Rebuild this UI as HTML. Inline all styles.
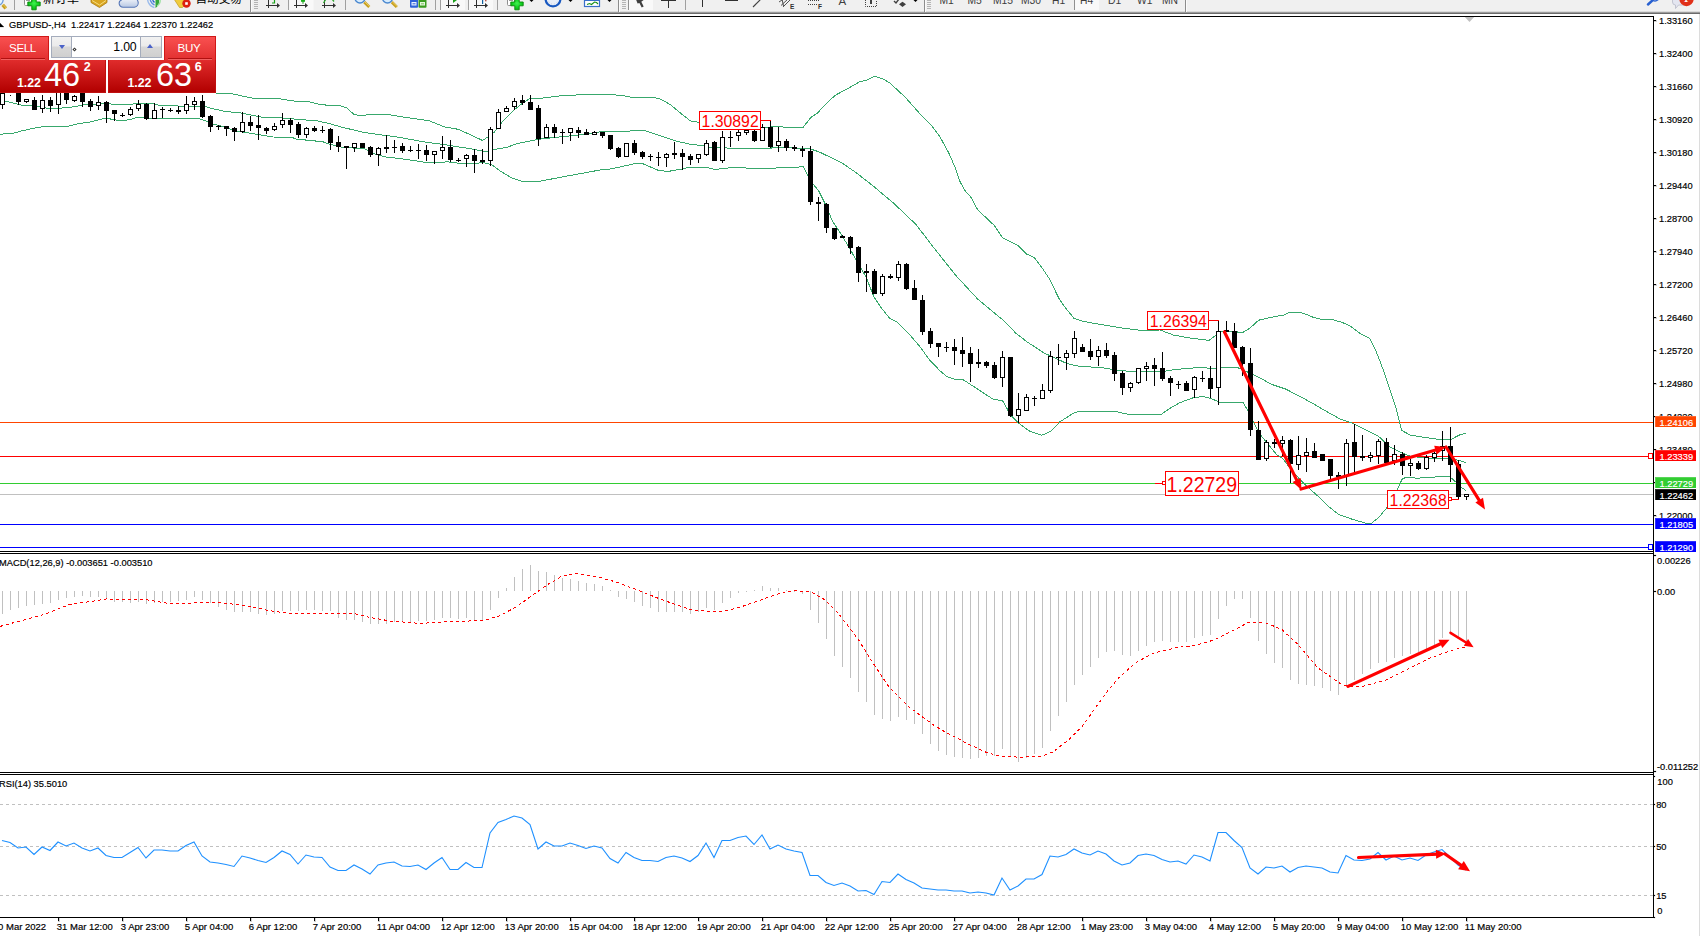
<!DOCTYPE html>
<html><head><meta charset="utf-8"><title>GBPUSD-,H4</title>
<style>
html,body{margin:0;padding:0;background:#fff;}
body{width:1700px;height:936px;overflow:hidden;position:relative;font-family:"Liberation Sans", "Noto Sans CJK SC", sans-serif;}
#tb{position:absolute;left:0;top:0;width:1700px;height:14px;background:linear-gradient(#f0f0f0 0,#f0f0f0 10.4px,#f7f7f7 11px,#c4c4c4 11.9px,#7a7a7a 13px,#686868 13.6px,#fff 13.95px);overflow:hidden;}
#tb span{position:absolute;white-space:nowrap;color:#222;}
#tb i{position:absolute;display:block;}
#tp{position:absolute;left:0;top:36px;width:216px;height:57px;background:#fff;}
#tp div{position:absolute;box-sizing:border-box;}
.r1{background:linear-gradient(#f95050,#e23030);border:1px solid #d01818;border-bottom:0;}
.r2{background:linear-gradient(#e02c2c,#b20000);border:1px solid #c01010;border-top:0;}
#tp span{position:absolute;color:#fff;white-space:nowrap;line-height:1;}
</style></head><body>
<svg width="1700" height="936" viewBox="0 0 1700 936" style="position:absolute;left:0;top:0" font-family='"Liberation Sans", "Noto Sans CJK SC", sans-serif' shape-rendering="crispEdges">
<defs>
<clipPath id="cm"><rect x="0" y="17" width="1653" height="534"/></clipPath>
<clipPath id="cd"><rect x="0" y="554" width="1653" height="218"/></clipPath>
<clipPath id="cr"><rect x="0" y="776" width="1653" height="141"/></clipPath>
</defs>
<g fill="#000">
<rect x="0" y="16" width="1654" height="1"/>
<rect x="1653" y="16" width="1" height="902"/>
<rect x="0" y="551" width="1654" height="1"/>
<rect x="0" y="553" width="1654" height="1"/>
<rect x="0" y="772" width="1654" height="1"/>
<rect x="0" y="774" width="1654" height="1"/>
<rect x="0" y="917" width="1654" height="1"/>
</g>
<rect x="1699" y="14" width="1" height="922" fill="#dcdcdc"/>
<g clip-path="url(#cm)">
<rect x="0" y="422" width="1653" height="1" fill="#FF4500"/>
<rect x="0" y="456" width="1653" height="1" fill="#FF0000"/>
<rect x="0" y="483" width="1653" height="1" fill="#32CD32"/>
<rect x="0" y="494" width="1653" height="1" fill="#C0C0C0"/>
<rect x="0" y="524" width="1653" height="1" fill="#0000FF"/>
<rect x="0" y="547" width="1653" height="1" fill="#0000FF"/>
<polyline points="0.0,90.0 216.0,93.0 230.6,93.5 247.0,97.0 255.0,98.5 277.6,98.5 294.0,101.0 308.0,101.5 317.6,104.0 329.4,105.5 340.0,105.5 347.0,108.0 354.0,114.5 360.0,115.5 366.0,115.0 376.5,114.3 388.0,114.5 400.0,116.5 429.4,120.8 444.7,127.0 458.8,129.4 482.4,140.4 488.0,137.0 494.0,132.4 502.4,121.8 514.0,110.0 523.5,102.4 529.4,98.8 541.0,98.2 564.7,95.3 588.0,94.7 600.0,94.0 621.0,95.3 631.8,97.3 654.0,97.3 661.0,99.4 670.6,104.7 682.4,114.7 690.6,121.0 699.4,122.4 730.0,124.0 764.7,127.4 774.0,126.7 781.0,126.5 784.7,127.6 803.0,127.6 810.5,117.8 817.8,112.7 823.0,107.0 835.0,95.4 847.0,89.0 859.6,81.8 867.0,80.0 874.5,76.3 883.0,79.0 889.5,82.7 905.0,97.0 921.0,115.0 932.0,126.0 939.5,136.0 948.6,152.6 955.8,169.0 960.0,181.6 964.8,190.4 971.2,197.6 977.6,209.6 994.5,225.7 1002.5,237.7 1017.7,245.4 1026.5,254.0 1034.5,257.7 1043.3,269.7 1049.7,279.4 1059.4,299.4 1065.8,308.2 1073.8,318.1 1081.8,321.0 1090.0,322.6 1103.5,324.9 1121.7,328.0 1140.0,330.3 1160.0,330.0 1173.4,335.0 1189.8,338.0 1209.0,340.4 1215.0,335.9 1219.7,331.7 1234.7,331.4 1242.0,333.0 1249.6,328.4 1258.6,320.2 1272.0,317.2 1280.0,315.5 1284.0,315.0 1289.6,312.3 1300.0,312.3 1305.6,314.2 1313.6,317.4 1321.6,319.3 1332.0,319.3 1342.5,322.6 1350.5,326.2 1360.0,333.4 1369.7,338.2 1376.0,351.0 1381.0,363.9 1385.7,376.7 1390.5,391.1 1395.3,405.5 1399.3,421.5 1401.7,430.4 1410.5,435.2 1422.0,437.0 1439.0,439.5 1451.8,439.0 1459.5,435.0 1466.0,433.0" fill="none" stroke="#38a86c" stroke-width="1" shape-rendering="crispEdges"/>
<polyline points="0.0,100.5 5.5,101.2 13.0,103.0 22.6,105.4 31.0,105.7 38.8,106.7 47.9,108.4 58.0,108.4 70.0,107.3 77.7,106.0 87.4,104.0 100.0,104.0 108.5,103.2 111.3,104.0 133.2,104.0 136.7,103.2 149.4,103.2 153.6,104.0 158.6,105.1 174.0,105.1 177.6,106.0 205.9,106.5 210.0,108.0 215.7,109.3 223.5,111.2 241.0,113.0 263.5,117.6 282.0,118.0 294.0,119.0 317.6,121.0 329.0,123.5 341.0,127.0 364.7,132.6 386.0,135.5 400.0,137.5 423.5,141.8 447.0,145.0 470.6,148.8 482.4,151.0 488.0,151.0 494.0,149.4 506.0,147.6 517.6,143.5 537.6,139.4 553.0,137.6 576.5,135.3 600.0,131.8 621.0,131.8 638.8,130.2 644.7,130.6 658.8,135.3 676.5,141.2 689.4,144.0 703.5,145.9 710.6,147.6 717.6,147.6 726.0,147.9 729.4,148.5 764.7,148.5 773.0,147.9 778.8,147.0 796.0,148.0 810.5,149.0 818.7,151.7 841.4,162.6 856.0,172.6 872.3,185.3 894.0,203.5 916.0,224.5 934.0,248.0 955.8,275.4 977.6,299.0 996.0,314.4 1001.8,319.0 1016.3,333.6 1027.0,341.8 1043.5,352.7 1052.6,356.9 1067.0,363.6 1078.0,366.0 1103.5,368.0 1121.7,370.8 1140.0,371.7 1160.0,372.0 1174.9,369.5 1201.8,367.3 1213.7,369.0 1222.7,367.6 1237.7,367.6 1243.6,370.3 1254.0,374.8 1272.0,384.5 1285.5,389.0 1300.0,396.4 1312.0,403.0 1324.0,410.0 1340.0,419.0 1351.5,422.8 1363.0,428.6 1378.5,436.3 1390.0,447.0 1399.0,451.7 1409.5,456.0 1422.0,457.7 1436.0,458.5 1451.8,458.5 1459.5,460.6 1466.0,462.6" fill="none" stroke="#38a86c" stroke-width="1" shape-rendering="crispEdges"/>
<polyline points="0.0,134.7 5.8,133.2 13.6,133.2 21.4,131.0 32.4,128.5 38.8,127.4 46.6,126.0 69.3,126.0 77.7,123.8 90.6,121.9 100.0,119.6 104.2,118.5 109.2,118.5 112.0,119.6 118.3,120.3 125.4,120.3 131.0,119.2 136.7,117.6 142.3,117.6 145.2,118.5 198.8,118.5 203.7,120.3 208.7,121.7 212.9,124.2 220.0,125.6 235.0,130.6 259.0,134.7 273.0,137.0 292.0,137.5 297.6,139.4 310.6,140.4 323.5,142.0 329.0,144.0 341.0,147.0 353.0,148.0 364.7,148.8 376.5,154.7 386.0,157.0 400.0,158.5 426.0,162.4 435.0,163.0 447.0,161.8 458.8,163.2 476.5,163.5 482.4,162.4 491.8,164.7 500.0,171.0 511.8,178.0 521.0,181.0 541.0,181.0 564.7,176.5 600.0,170.0 611.8,168.8 635.3,163.5 642.4,163.5 649.4,166.5 658.8,170.6 668.2,171.4 680.0,169.4 688.2,167.4 706.0,167.4 715.3,169.4 729.4,167.9 741.0,167.6 753.0,168.6 770.6,168.2 788.2,167.6 796.0,167.5 803.0,166.3 807.8,175.4 814.0,185.3 818.7,190.8 826.0,205.4 832.3,220.9 841.4,234.5 850.5,250.0 857.8,262.7 866.0,277.0 874.0,297.0 881.4,308.0 889.5,318.0 897.7,322.6 908.6,333.5 919.5,346.2 929.5,359.8 940.0,370.8 947.0,376.8 953.6,379.0 962.7,379.4 976.0,388.0 992.7,399.0 1002.7,401.0 1010.8,415.3 1018.0,422.6 1029.0,430.8 1041.7,435.3 1050.8,431.3 1060.0,421.7 1074.4,412.6 1080.0,411.3 1114.4,411.3 1129.0,414.4 1149.4,414.4 1161.4,414.4 1168.9,408.9 1179.3,402.9 1192.8,397.9 1202.5,396.4 1210.7,398.4 1221.2,402.9 1233.2,402.9 1242.9,402.4 1248.0,410.6 1252.8,421.0 1260.5,435.0 1269.5,446.0 1277.0,454.9 1282.3,458.0 1291.3,470.0 1304.0,483.7 1317.0,495.3 1329.7,507.4 1338.7,514.5 1351.5,519.0 1368.0,523.8 1370.8,523.8 1378.5,517.7 1386.0,508.7 1394.0,496.0 1397.3,489.5 1402.4,478.6 1407.0,477.3 1417.0,478.2 1431.0,477.3 1449.0,476.0 1455.6,481.8 1460.8,487.0 1466.0,490.5" fill="none" stroke="#38a86c" stroke-width="1" shape-rendering="crispEdges"/>
<g fill="#000">
<rect x="2" y="93" width="1" height="16"/>
<rect x="0" y="93" width="5" height="12"/>
<rect x="1" y="94" width="3" height="10" fill="#fff"/>
<rect x="10" y="95" width="1" height="1"/>
<rect x="18" y="90" width="1" height="15"/>
<rect x="16" y="90" width="5" height="12"/>
<rect x="26" y="99" width="1" height="4"/>
<rect x="24" y="99" width="5" height="3"/>
<rect x="25" y="100" width="3" height="1" fill="#fff"/>
<rect x="34" y="97" width="1" height="13"/>
<rect x="32" y="100" width="5" height="10"/>
<rect x="42" y="95" width="1" height="18"/>
<rect x="40" y="100" width="5" height="9"/>
<rect x="41" y="101" width="3" height="7" fill="#fff"/>
<rect x="50" y="97" width="1" height="15"/>
<rect x="48" y="100" width="5" height="6"/>
<rect x="58" y="90" width="1" height="24"/>
<rect x="56" y="90" width="5" height="15"/>
<rect x="57" y="91" width="3" height="13" fill="#fff"/>
<rect x="66" y="90" width="1" height="14"/>
<rect x="64" y="90" width="5" height="10"/>
<rect x="74" y="95" width="1" height="7"/>
<rect x="72" y="96" width="5" height="5"/>
<rect x="73" y="97" width="3" height="3" fill="#fff"/>
<rect x="82" y="90" width="1" height="17"/>
<rect x="80" y="90" width="5" height="12"/>
<rect x="90" y="99" width="1" height="12"/>
<rect x="88" y="101" width="5" height="6"/>
<rect x="98" y="96" width="1" height="14"/>
<rect x="96" y="102" width="5" height="4"/>
<rect x="97" y="103" width="3" height="2" fill="#fff"/>
<rect x="106" y="101" width="1" height="22"/>
<rect x="104" y="102" width="5" height="9"/>
<rect x="114" y="110" width="1" height="11"/>
<rect x="112" y="110" width="5" height="4"/>
<rect x="122" y="113" width="1" height="4"/>
<rect x="120" y="115" width="5" height="1"/>
<rect x="130" y="107" width="1" height="9"/>
<rect x="128" y="109" width="5" height="6"/>
<rect x="129" y="110" width="3" height="4" fill="#fff"/>
<rect x="138" y="100" width="1" height="11"/>
<rect x="136" y="104" width="5" height="5"/>
<rect x="137" y="105" width="3" height="3" fill="#fff"/>
<rect x="146" y="103" width="1" height="17"/>
<rect x="144" y="104" width="5" height="15"/>
<rect x="154" y="103" width="1" height="16"/>
<rect x="152" y="110" width="5" height="9"/>
<rect x="153" y="111" width="3" height="7" fill="#fff"/>
<rect x="162" y="107" width="1" height="11"/>
<rect x="160" y="109" width="5" height="1"/>
<rect x="170" y="108" width="1" height="4"/>
<rect x="168" y="110" width="5" height="1"/>
<rect x="178" y="106" width="1" height="8"/>
<rect x="176" y="110" width="5" height="2"/>
<rect x="186" y="96" width="1" height="18"/>
<rect x="184" y="104" width="5" height="7"/>
<rect x="185" y="105" width="3" height="5" fill="#fff"/>
<rect x="194" y="97" width="1" height="13"/>
<rect x="192" y="101" width="5" height="4"/>
<rect x="193" y="102" width="3" height="2" fill="#fff"/>
<rect x="202" y="95" width="1" height="23"/>
<rect x="200" y="101" width="5" height="16"/>
<rect x="210" y="115" width="1" height="17"/>
<rect x="208" y="116" width="5" height="11"/>
<rect x="218" y="125" width="1" height="5"/>
<rect x="216" y="126" width="5" height="1"/>
<rect x="226" y="126" width="1" height="10"/>
<rect x="224" y="126" width="5" height="3"/>
<rect x="234" y="127" width="1" height="14"/>
<rect x="232" y="128" width="5" height="4"/>
<rect x="242" y="112" width="1" height="21"/>
<rect x="240" y="122" width="5" height="10"/>
<rect x="241" y="123" width="3" height="8" fill="#fff"/>
<rect x="250" y="116" width="1" height="15"/>
<rect x="248" y="122" width="5" height="4"/>
<rect x="258" y="115" width="1" height="25"/>
<rect x="256" y="125" width="5" height="3"/>
<rect x="266" y="127" width="1" height="7"/>
<rect x="264" y="128" width="5" height="3"/>
<rect x="274" y="123" width="1" height="8"/>
<rect x="272" y="126" width="5" height="4"/>
<rect x="273" y="127" width="3" height="2" fill="#fff"/>
<rect x="282" y="113" width="1" height="15"/>
<rect x="280" y="120" width="5" height="5"/>
<rect x="281" y="121" width="3" height="3" fill="#fff"/>
<rect x="290" y="118" width="1" height="15"/>
<rect x="288" y="120" width="5" height="5"/>
<rect x="298" y="122" width="1" height="16"/>
<rect x="296" y="124" width="5" height="11"/>
<rect x="306" y="127" width="1" height="11"/>
<rect x="304" y="128" width="5" height="7"/>
<rect x="305" y="129" width="3" height="5" fill="#fff"/>
<rect x="314" y="126" width="1" height="6"/>
<rect x="312" y="128" width="5" height="3"/>
<rect x="322" y="126" width="1" height="7"/>
<rect x="320" y="130" width="5" height="1"/>
<rect x="330" y="128" width="1" height="22"/>
<rect x="328" y="129" width="5" height="14"/>
<rect x="338" y="136" width="1" height="16"/>
<rect x="336" y="142" width="5" height="5"/>
<rect x="346" y="146" width="1" height="23"/>
<rect x="344" y="146" width="5" height="2"/>
<rect x="354" y="143" width="1" height="9"/>
<rect x="352" y="143" width="5" height="5"/>
<rect x="353" y="144" width="3" height="3" fill="#fff"/>
<rect x="362" y="143" width="1" height="5"/>
<rect x="360" y="143" width="5" height="5"/>
<rect x="370" y="146" width="1" height="11"/>
<rect x="368" y="147" width="5" height="8"/>
<rect x="378" y="147" width="1" height="19"/>
<rect x="376" y="148" width="5" height="7"/>
<rect x="377" y="149" width="3" height="5" fill="#fff"/>
<rect x="386" y="135" width="1" height="18"/>
<rect x="384" y="147" width="5" height="2"/>
<rect x="394" y="140" width="1" height="13"/>
<rect x="392" y="147" width="5" height="1"/>
<rect x="402" y="143" width="1" height="10"/>
<rect x="400" y="146" width="5" height="5"/>
<rect x="410" y="146" width="1" height="6"/>
<rect x="408" y="150" width="5" height="1"/>
<rect x="418" y="144" width="1" height="15"/>
<rect x="416" y="150" width="5" height="1"/>
<rect x="426" y="145" width="1" height="16"/>
<rect x="424" y="150" width="5" height="5"/>
<rect x="434" y="151" width="1" height="13"/>
<rect x="432" y="151" width="5" height="4"/>
<rect x="433" y="152" width="3" height="2" fill="#fff"/>
<rect x="442" y="136" width="1" height="23"/>
<rect x="440" y="147" width="5" height="4"/>
<rect x="441" y="148" width="3" height="2" fill="#fff"/>
<rect x="450" y="140" width="1" height="22"/>
<rect x="448" y="147" width="5" height="13"/>
<rect x="458" y="158" width="1" height="4"/>
<rect x="456" y="160" width="5" height="1"/>
<rect x="466" y="154" width="1" height="13"/>
<rect x="464" y="155" width="5" height="4"/>
<rect x="465" y="156" width="3" height="2" fill="#fff"/>
<rect x="474" y="149" width="1" height="24"/>
<rect x="472" y="155" width="5" height="6"/>
<rect x="482" y="149" width="1" height="15"/>
<rect x="480" y="160" width="5" height="2"/>
<rect x="490" y="127" width="1" height="39"/>
<rect x="488" y="129" width="5" height="32"/>
<rect x="489" y="130" width="3" height="30" fill="#fff"/>
<rect x="498" y="109" width="1" height="20"/>
<rect x="496" y="112" width="5" height="17"/>
<rect x="497" y="113" width="3" height="15" fill="#fff"/>
<rect x="506" y="106" width="1" height="6"/>
<rect x="504" y="108" width="5" height="4"/>
<rect x="505" y="109" width="3" height="2" fill="#fff"/>
<rect x="514" y="98" width="1" height="12"/>
<rect x="512" y="101" width="5" height="6"/>
<rect x="513" y="102" width="3" height="4" fill="#fff"/>
<rect x="522" y="95" width="1" height="10"/>
<rect x="520" y="100" width="5" height="3"/>
<rect x="530" y="95" width="1" height="15"/>
<rect x="528" y="102" width="5" height="8"/>
<rect x="538" y="105" width="1" height="41"/>
<rect x="536" y="108" width="5" height="31"/>
<rect x="546" y="124" width="1" height="14"/>
<rect x="544" y="127" width="5" height="11"/>
<rect x="545" y="128" width="3" height="9" fill="#fff"/>
<rect x="554" y="124" width="1" height="14"/>
<rect x="552" y="127" width="5" height="6"/>
<rect x="562" y="129" width="1" height="15"/>
<rect x="560" y="132" width="5" height="1"/>
<rect x="570" y="128" width="1" height="13"/>
<rect x="568" y="128" width="5" height="5"/>
<rect x="569" y="129" width="3" height="3" fill="#fff"/>
<rect x="578" y="127" width="1" height="11"/>
<rect x="576" y="130" width="5" height="3"/>
<rect x="586" y="129" width="1" height="6"/>
<rect x="584" y="132" width="5" height="3"/>
<rect x="594" y="131" width="1" height="4"/>
<rect x="592" y="132" width="5" height="3"/>
<rect x="593" y="133" width="3" height="1" fill="#fff"/>
<rect x="602" y="132" width="1" height="6"/>
<rect x="600" y="132" width="5" height="4"/>
<rect x="610" y="135" width="1" height="15"/>
<rect x="608" y="135" width="5" height="14"/>
<rect x="618" y="147" width="1" height="11"/>
<rect x="616" y="148" width="5" height="9"/>
<rect x="626" y="143" width="1" height="14"/>
<rect x="624" y="143" width="5" height="14"/>
<rect x="625" y="144" width="3" height="12" fill="#fff"/>
<rect x="634" y="140" width="1" height="15"/>
<rect x="632" y="143" width="5" height="10"/>
<rect x="642" y="151" width="1" height="8"/>
<rect x="640" y="152" width="5" height="5"/>
<rect x="650" y="154" width="1" height="7"/>
<rect x="648" y="156" width="5" height="1"/>
<rect x="658" y="152" width="1" height="14"/>
<rect x="656" y="157" width="5" height="1"/>
<rect x="666" y="153" width="1" height="14"/>
<rect x="664" y="154" width="5" height="4"/>
<rect x="665" y="155" width="3" height="2" fill="#fff"/>
<rect x="674" y="142" width="1" height="17"/>
<rect x="672" y="153" width="5" height="2"/>
<rect x="682" y="149" width="1" height="21"/>
<rect x="680" y="153" width="5" height="4"/>
<rect x="690" y="154" width="1" height="11"/>
<rect x="688" y="156" width="5" height="4"/>
<rect x="698" y="154" width="1" height="9"/>
<rect x="696" y="154" width="5" height="5"/>
<rect x="697" y="155" width="3" height="3" fill="#fff"/>
<rect x="706" y="140" width="1" height="16"/>
<rect x="704" y="143" width="5" height="12"/>
<rect x="705" y="144" width="3" height="10" fill="#fff"/>
<rect x="714" y="141" width="1" height="20"/>
<rect x="712" y="142" width="5" height="19"/>
<rect x="722" y="131" width="1" height="32"/>
<rect x="720" y="137" width="5" height="24"/>
<rect x="721" y="138" width="3" height="22" fill="#fff"/>
<rect x="730" y="131" width="1" height="16"/>
<rect x="728" y="137" width="5" height="1"/>
<rect x="738" y="129" width="1" height="12"/>
<rect x="736" y="132" width="5" height="4"/>
<rect x="737" y="133" width="3" height="2" fill="#fff"/>
<rect x="746" y="128" width="1" height="7"/>
<rect x="744" y="130" width="5" height="3"/>
<rect x="745" y="131" width="3" height="1" fill="#fff"/>
<rect x="754" y="130" width="1" height="12"/>
<rect x="752" y="131" width="5" height="10"/>
<rect x="762" y="124" width="1" height="17"/>
<rect x="760" y="127" width="5" height="14"/>
<rect x="761" y="128" width="3" height="12" fill="#fff"/>
<rect x="770" y="120" width="1" height="28"/>
<rect x="768" y="127" width="5" height="20"/>
<rect x="778" y="127" width="1" height="25"/>
<rect x="776" y="141" width="5" height="5"/>
<rect x="777" y="142" width="3" height="3" fill="#fff"/>
<rect x="786" y="139" width="1" height="12"/>
<rect x="784" y="141" width="5" height="7"/>
<rect x="794" y="145" width="1" height="6"/>
<rect x="792" y="147" width="5" height="2"/>
<rect x="802" y="146" width="1" height="11"/>
<rect x="800" y="149" width="5" height="2"/>
<rect x="810" y="146" width="1" height="59"/>
<rect x="808" y="151" width="5" height="51"/>
<rect x="818" y="197" width="1" height="24"/>
<rect x="816" y="202" width="5" height="2"/>
<rect x="826" y="203" width="1" height="30"/>
<rect x="824" y="204" width="5" height="24"/>
<rect x="834" y="228" width="1" height="12"/>
<rect x="832" y="228" width="5" height="11"/>
<rect x="842" y="235" width="1" height="3"/>
<rect x="840" y="236" width="5" height="2"/>
<rect x="850" y="236" width="1" height="18"/>
<rect x="848" y="237" width="5" height="11"/>
<rect x="858" y="246" width="1" height="36"/>
<rect x="856" y="247" width="5" height="26"/>
<rect x="866" y="264" width="1" height="28"/>
<rect x="864" y="271" width="5" height="2"/>
<rect x="874" y="269" width="1" height="25"/>
<rect x="872" y="271" width="5" height="23"/>
<rect x="882" y="274" width="1" height="22"/>
<rect x="880" y="276" width="5" height="18"/>
<rect x="881" y="277" width="3" height="16" fill="#fff"/>
<rect x="890" y="274" width="1" height="5"/>
<rect x="888" y="276" width="5" height="2"/>
<rect x="898" y="261" width="1" height="20"/>
<rect x="896" y="264" width="5" height="14"/>
<rect x="897" y="265" width="3" height="12" fill="#fff"/>
<rect x="906" y="263" width="1" height="27"/>
<rect x="904" y="264" width="5" height="25"/>
<rect x="914" y="280" width="1" height="20"/>
<rect x="912" y="288" width="5" height="12"/>
<rect x="922" y="295" width="1" height="40"/>
<rect x="920" y="300" width="5" height="32"/>
<rect x="930" y="328" width="1" height="20"/>
<rect x="928" y="331" width="5" height="13"/>
<rect x="938" y="343" width="1" height="14"/>
<rect x="936" y="343" width="5" height="4"/>
<rect x="946" y="342" width="1" height="10"/>
<rect x="944" y="347" width="5" height="1"/>
<rect x="954" y="339" width="1" height="26"/>
<rect x="952" y="347" width="5" height="4"/>
<rect x="962" y="337" width="1" height="30"/>
<rect x="960" y="350" width="5" height="4"/>
<rect x="970" y="347" width="1" height="35"/>
<rect x="968" y="353" width="5" height="11"/>
<rect x="978" y="349" width="1" height="19"/>
<rect x="976" y="362" width="5" height="2"/>
<rect x="986" y="361" width="1" height="7"/>
<rect x="984" y="362" width="5" height="4"/>
<rect x="994" y="362" width="1" height="17"/>
<rect x="992" y="365" width="5" height="13"/>
<rect x="1002" y="351" width="1" height="36"/>
<rect x="1000" y="357" width="5" height="21"/>
<rect x="1001" y="358" width="3" height="19" fill="#fff"/>
<rect x="1010" y="357" width="1" height="60"/>
<rect x="1008" y="357" width="5" height="59"/>
<rect x="1018" y="393" width="1" height="30"/>
<rect x="1016" y="409" width="5" height="7"/>
<rect x="1017" y="410" width="3" height="5" fill="#fff"/>
<rect x="1026" y="394" width="1" height="17"/>
<rect x="1024" y="397" width="5" height="14"/>
<rect x="1025" y="398" width="3" height="12" fill="#fff"/>
<rect x="1034" y="396" width="1" height="10"/>
<rect x="1032" y="398" width="5" height="1"/>
<rect x="1042" y="384" width="1" height="15"/>
<rect x="1040" y="390" width="5" height="9"/>
<rect x="1041" y="391" width="3" height="7" fill="#fff"/>
<rect x="1050" y="351" width="1" height="42"/>
<rect x="1048" y="356" width="5" height="35"/>
<rect x="1049" y="357" width="3" height="33" fill="#fff"/>
<rect x="1058" y="344" width="1" height="21"/>
<rect x="1056" y="357" width="5" height="1"/>
<rect x="1066" y="350" width="1" height="20"/>
<rect x="1064" y="353" width="5" height="5"/>
<rect x="1065" y="354" width="3" height="3" fill="#fff"/>
<rect x="1074" y="331" width="1" height="27"/>
<rect x="1072" y="338" width="5" height="16"/>
<rect x="1073" y="339" width="3" height="14" fill="#fff"/>
<rect x="1082" y="344" width="1" height="8"/>
<rect x="1080" y="347" width="5" height="5"/>
<rect x="1090" y="339" width="1" height="21"/>
<rect x="1088" y="351" width="5" height="6"/>
<rect x="1098" y="346" width="1" height="20"/>
<rect x="1096" y="350" width="5" height="7"/>
<rect x="1097" y="351" width="3" height="5" fill="#fff"/>
<rect x="1106" y="343" width="1" height="15"/>
<rect x="1104" y="350" width="5" height="6"/>
<rect x="1114" y="352" width="1" height="29"/>
<rect x="1112" y="355" width="5" height="19"/>
<rect x="1122" y="371" width="1" height="24"/>
<rect x="1120" y="373" width="5" height="15"/>
<rect x="1130" y="382" width="1" height="10"/>
<rect x="1128" y="383" width="5" height="5"/>
<rect x="1129" y="384" width="3" height="3" fill="#fff"/>
<rect x="1138" y="368" width="1" height="16"/>
<rect x="1136" y="368" width="5" height="15"/>
<rect x="1137" y="369" width="3" height="13" fill="#fff"/>
<rect x="1146" y="362" width="1" height="19"/>
<rect x="1144" y="366" width="5" height="3"/>
<rect x="1145" y="367" width="3" height="1" fill="#fff"/>
<rect x="1154" y="358" width="1" height="28"/>
<rect x="1152" y="365" width="5" height="4"/>
<rect x="1162" y="352" width="1" height="29"/>
<rect x="1160" y="368" width="5" height="11"/>
<rect x="1170" y="376" width="1" height="20"/>
<rect x="1168" y="378" width="5" height="5"/>
<rect x="1178" y="381" width="1" height="8"/>
<rect x="1176" y="384" width="5" height="1"/>
<rect x="1186" y="381" width="1" height="10"/>
<rect x="1184" y="383" width="5" height="8"/>
<rect x="1194" y="376" width="1" height="22"/>
<rect x="1192" y="377" width="5" height="13"/>
<rect x="1193" y="378" width="3" height="11" fill="#fff"/>
<rect x="1202" y="371" width="1" height="11"/>
<rect x="1200" y="378" width="5" height="1"/>
<rect x="1210" y="366" width="1" height="32"/>
<rect x="1208" y="378" width="5" height="11"/>
<rect x="1218" y="321" width="1" height="84"/>
<rect x="1216" y="331" width="5" height="57"/>
<rect x="1217" y="332" width="3" height="55" fill="#fff"/>
<rect x="1226" y="321" width="1" height="11"/>
<rect x="1224" y="330" width="5" height="2"/>
<rect x="1234" y="323" width="1" height="25"/>
<rect x="1232" y="331" width="5" height="17"/>
<rect x="1242" y="346" width="1" height="30"/>
<rect x="1240" y="347" width="5" height="17"/>
<rect x="1250" y="348" width="1" height="88"/>
<rect x="1248" y="363" width="5" height="67"/>
<rect x="1258" y="421" width="1" height="39"/>
<rect x="1256" y="430" width="5" height="30"/>
<rect x="1266" y="440" width="1" height="21"/>
<rect x="1264" y="442" width="5" height="17"/>
<rect x="1265" y="443" width="3" height="15" fill="#fff"/>
<rect x="1274" y="439" width="1" height="9"/>
<rect x="1272" y="442" width="5" height="2"/>
<rect x="1282" y="436" width="1" height="20"/>
<rect x="1280" y="440" width="5" height="4"/>
<rect x="1281" y="441" width="3" height="2" fill="#fff"/>
<rect x="1290" y="439" width="1" height="44"/>
<rect x="1288" y="440" width="5" height="24"/>
<rect x="1298" y="436" width="1" height="34"/>
<rect x="1296" y="455" width="5" height="10"/>
<rect x="1297" y="456" width="3" height="8" fill="#fff"/>
<rect x="1306" y="438" width="1" height="34"/>
<rect x="1304" y="452" width="5" height="4"/>
<rect x="1305" y="453" width="3" height="2" fill="#fff"/>
<rect x="1314" y="443" width="1" height="15"/>
<rect x="1312" y="451" width="5" height="7"/>
<rect x="1322" y="454" width="1" height="7"/>
<rect x="1320" y="454" width="5" height="7"/>
<rect x="1330" y="459" width="1" height="20"/>
<rect x="1328" y="459" width="5" height="17"/>
<rect x="1338" y="472" width="1" height="17"/>
<rect x="1336" y="475" width="5" height="2"/>
<rect x="1346" y="439" width="1" height="47"/>
<rect x="1344" y="443" width="5" height="33"/>
<rect x="1345" y="444" width="3" height="31" fill="#fff"/>
<rect x="1354" y="424" width="1" height="49"/>
<rect x="1352" y="442" width="5" height="15"/>
<rect x="1362" y="435" width="1" height="26"/>
<rect x="1360" y="456" width="5" height="2"/>
<rect x="1370" y="452" width="1" height="10"/>
<rect x="1368" y="455" width="5" height="3"/>
<rect x="1369" y="456" width="3" height="1" fill="#fff"/>
<rect x="1378" y="439" width="1" height="25"/>
<rect x="1376" y="441" width="5" height="15"/>
<rect x="1377" y="442" width="3" height="13" fill="#fff"/>
<rect x="1386" y="438" width="1" height="25"/>
<rect x="1384" y="442" width="5" height="21"/>
<rect x="1394" y="445" width="1" height="20"/>
<rect x="1392" y="454" width="5" height="7"/>
<rect x="1393" y="455" width="3" height="5" fill="#fff"/>
<rect x="1402" y="452" width="1" height="23"/>
<rect x="1400" y="454" width="5" height="12"/>
<rect x="1410" y="459" width="1" height="17"/>
<rect x="1408" y="463" width="5" height="3"/>
<rect x="1409" y="464" width="3" height="1" fill="#fff"/>
<rect x="1418" y="461" width="1" height="9"/>
<rect x="1416" y="463" width="5" height="6"/>
<rect x="1426" y="455" width="1" height="15"/>
<rect x="1424" y="457" width="5" height="12"/>
<rect x="1425" y="458" width="3" height="10" fill="#fff"/>
<rect x="1434" y="452" width="1" height="10"/>
<rect x="1432" y="453" width="5" height="5"/>
<rect x="1433" y="454" width="3" height="3" fill="#fff"/>
<rect x="1442" y="431" width="1" height="30"/>
<rect x="1440" y="446" width="5" height="5"/>
<rect x="1441" y="447" width="3" height="3" fill="#fff"/>
<rect x="1450" y="427" width="1" height="55"/>
<rect x="1448" y="446" width="5" height="19"/>
<rect x="1458" y="460" width="1" height="40"/>
<rect x="1456" y="464" width="5" height="33"/>
<rect x="1466" y="494" width="1" height="6"/>
<rect x="1464" y="494" width="5" height="3"/>
<rect x="1465" y="495" width="3" height="1" fill="#fff"/>
</g>
</g>
<rect x="1648.5" y="453.5" width="4" height="5" fill="#fff" stroke="#FF0000" stroke-width="1"/>
<rect x="1648.5" y="544.5" width="4" height="5" fill="#fff" stroke="#0000FF" stroke-width="1"/>
<rect x="761" y="120" width="10" height="1" fill="#f00"/>
<rect x="699.5" y="111.5" width="61" height="18" fill="#fff" stroke="#FF0000" stroke-width="1"/>
<text x="701.6" y="126.5" font-size="15.8" fill="#FF0000" shape-rendering="auto">1.30892</text>
<rect x="1208" y="320" width="11" height="1" fill="#f00"/>
<rect x="1147.5" y="311.5" width="61" height="18" fill="#fff" stroke="#FF0000" stroke-width="1"/>
<text x="1149.8" y="326.5" font-size="15.8" fill="#FF0000" shape-rendering="auto">1.26394</text>
<rect x="1155" y="483" width="8" height="1" fill="#f00"/>
<rect x="1162.5" y="481.5" width="3" height="3" fill="#fff" stroke="#f00"/>
<rect x="1165.5" y="471.5" width="73" height="24" fill="#fff" stroke="#FF0000" stroke-width="1"/>
<text transform="translate(1166.6,491.8) scale(1,1.1)" font-size="19.5" fill="#FF0000" shape-rendering="auto">1.22729</text>
<rect x="1451" y="499" width="8" height="1" fill="#f00"/>
<rect x="1448.5" y="497.5" width="3" height="3" fill="#fff" stroke="#f00"/>
<rect x="1387.5" y="490.5" width="61" height="18" fill="#fff" stroke="#FF0000" stroke-width="1"/>
<text x="1389.6" y="505.5" font-size="15.8" fill="#FF0000" shape-rendering="auto">1.22368</text>
<g font-size="9.3" fill="#000" stroke="#000" stroke-width="0.18" shape-rendering="auto">
<rect x="1654" y="20" width="2" height="1" shape-rendering="crispEdges"/>
<text x="1659" y="23.6">1.33160</text>
<rect x="1654" y="53" width="2" height="1" shape-rendering="crispEdges"/>
<text x="1659" y="56.6">1.32400</text>
<rect x="1654" y="86" width="2" height="1" shape-rendering="crispEdges"/>
<text x="1659" y="89.6">1.31660</text>
<rect x="1654" y="119" width="2" height="1" shape-rendering="crispEdges"/>
<text x="1659" y="122.6">1.30920</text>
<rect x="1654" y="152" width="2" height="1" shape-rendering="crispEdges"/>
<text x="1659" y="155.6">1.30180</text>
<rect x="1654" y="185" width="2" height="1" shape-rendering="crispEdges"/>
<text x="1659" y="188.6">1.29440</text>
<rect x="1654" y="218" width="2" height="1" shape-rendering="crispEdges"/>
<text x="1659" y="221.6">1.28700</text>
<rect x="1654" y="251" width="2" height="1" shape-rendering="crispEdges"/>
<text x="1659" y="254.6">1.27940</text>
<rect x="1654" y="284" width="2" height="1" shape-rendering="crispEdges"/>
<text x="1659" y="287.6">1.27200</text>
<rect x="1654" y="317" width="2" height="1" shape-rendering="crispEdges"/>
<text x="1659" y="320.6">1.26460</text>
<rect x="1654" y="350" width="2" height="1" shape-rendering="crispEdges"/>
<text x="1659" y="353.6">1.25720</text>
<rect x="1654" y="383" width="2" height="1" shape-rendering="crispEdges"/>
<text x="1659" y="386.6">1.24980</text>
<rect x="1654" y="416" width="2" height="1" shape-rendering="crispEdges"/>
<text x="1659" y="419.6">1.24220</text>
<rect x="1654" y="449" width="2" height="1" shape-rendering="crispEdges"/>
<text x="1659" y="452.6">1.23480</text>
<rect x="1654" y="482" width="2" height="1" shape-rendering="crispEdges"/>
<text x="1659" y="485.6">1.22740</text>
<rect x="1654" y="515" width="2" height="1" shape-rendering="crispEdges"/>
<text x="1659" y="518.6">1.22000</text>
</g>
<g font-size="9.3" fill="#fff" stroke="#fff" stroke-width="0.18" shape-rendering="auto">
<rect x="1655" y="416" width="41" height="11" fill="#FF4500" shape-rendering="crispEdges"/>
<text x="1659.5" y="425.6">1.24106</text>
<rect x="1655" y="450" width="41" height="11" fill="#FF0000" shape-rendering="crispEdges"/>
<text x="1659.5" y="459.6">1.23339</text>
<rect x="1655" y="477" width="41" height="11" fill="#32CD32" shape-rendering="crispEdges"/>
<text x="1659.5" y="486.6">1.22729</text>
<rect x="1655" y="489" width="41" height="11" fill="#000" shape-rendering="crispEdges"/>
<text x="1659.5" y="498.6">1.22462</text>
<rect x="1655" y="518" width="41" height="11" fill="#0000FF" shape-rendering="crispEdges"/>
<text x="1659.5" y="527.6">1.21805</text>
<rect x="1655" y="541" width="41" height="11" fill="#0000FF" shape-rendering="crispEdges"/>
<text x="1659.5" y="550.6">1.21290</text>
</g>
<g clip-path="url(#cd)">
<g fill="#c0c0c0">
<rect x="2" y="591" width="1" height="23"/>
<rect x="10" y="591" width="1" height="19"/>
<rect x="18" y="591" width="1" height="17"/>
<rect x="26" y="591" width="1" height="15"/>
<rect x="34" y="591" width="1" height="14"/>
<rect x="42" y="591" width="1" height="13"/>
<rect x="50" y="591" width="1" height="12"/>
<rect x="58" y="591" width="1" height="9"/>
<rect x="66" y="591" width="1" height="7"/>
<rect x="74" y="591" width="1" height="6"/>
<rect x="82" y="591" width="1" height="5"/>
<rect x="90" y="591" width="1" height="6"/>
<rect x="98" y="591" width="1" height="6"/>
<rect x="106" y="591" width="1" height="8"/>
<rect x="114" y="591" width="1" height="11"/>
<rect x="122" y="591" width="1" height="11"/>
<rect x="130" y="591" width="1" height="12"/>
<rect x="138" y="591" width="1" height="11"/>
<rect x="146" y="591" width="1" height="13"/>
<rect x="154" y="591" width="1" height="12"/>
<rect x="162" y="591" width="1" height="11"/>
<rect x="170" y="591" width="1" height="11"/>
<rect x="178" y="591" width="1" height="10"/>
<rect x="186" y="591" width="1" height="9"/>
<rect x="194" y="591" width="1" height="6"/>
<rect x="202" y="591" width="1" height="9"/>
<rect x="210" y="591" width="1" height="12"/>
<rect x="218" y="591" width="1" height="16"/>
<rect x="226" y="591" width="1" height="19"/>
<rect x="234" y="591" width="1" height="21"/>
<rect x="242" y="591" width="1" height="21"/>
<rect x="250" y="591" width="1" height="21"/>
<rect x="258" y="591" width="1" height="23"/>
<rect x="266" y="591" width="1" height="24"/>
<rect x="274" y="591" width="1" height="23"/>
<rect x="282" y="591" width="1" height="20"/>
<rect x="290" y="591" width="1" height="20"/>
<rect x="298" y="591" width="1" height="20"/>
<rect x="306" y="591" width="1" height="19"/>
<rect x="314" y="591" width="1" height="19"/>
<rect x="322" y="591" width="1" height="20"/>
<rect x="330" y="591" width="1" height="20"/>
<rect x="338" y="591" width="1" height="27"/>
<rect x="346" y="591" width="1" height="29"/>
<rect x="354" y="591" width="1" height="29"/>
<rect x="362" y="591" width="1" height="31"/>
<rect x="370" y="591" width="1" height="33"/>
<rect x="378" y="591" width="1" height="33"/>
<rect x="386" y="591" width="1" height="33"/>
<rect x="394" y="591" width="1" height="31"/>
<rect x="402" y="591" width="1" height="31"/>
<rect x="410" y="591" width="1" height="31"/>
<rect x="418" y="591" width="1" height="30"/>
<rect x="426" y="591" width="1" height="30"/>
<rect x="434" y="591" width="1" height="29"/>
<rect x="442" y="591" width="1" height="27"/>
<rect x="450" y="591" width="1" height="27"/>
<rect x="458" y="591" width="1" height="28"/>
<rect x="466" y="591" width="1" height="27"/>
<rect x="474" y="591" width="1" height="29"/>
<rect x="482" y="591" width="1" height="29"/>
<rect x="490" y="591" width="1" height="19"/>
<rect x="498" y="591" width="1" height="7"/>
<rect x="506" y="588" width="1" height="3"/>
<rect x="514" y="577" width="1" height="14"/>
<rect x="522" y="569" width="1" height="22"/>
<rect x="530" y="565" width="1" height="26"/>
<rect x="538" y="571" width="1" height="20"/>
<rect x="546" y="572" width="1" height="19"/>
<rect x="554" y="575" width="1" height="16"/>
<rect x="562" y="578" width="1" height="13"/>
<rect x="570" y="579" width="1" height="12"/>
<rect x="578" y="581" width="1" height="10"/>
<rect x="586" y="583" width="1" height="8"/>
<rect x="594" y="584" width="1" height="7"/>
<rect x="602" y="586" width="1" height="5"/>
<rect x="610" y="590" width="1" height="1"/>
<rect x="618" y="591" width="1" height="6"/>
<rect x="626" y="591" width="1" height="8"/>
<rect x="634" y="591" width="1" height="11"/>
<rect x="642" y="591" width="1" height="15"/>
<rect x="650" y="591" width="1" height="17"/>
<rect x="658" y="591" width="1" height="21"/>
<rect x="666" y="591" width="1" height="21"/>
<rect x="674" y="591" width="1" height="21"/>
<rect x="682" y="591" width="1" height="21"/>
<rect x="690" y="591" width="1" height="23"/>
<rect x="698" y="591" width="1" height="21"/>
<rect x="706" y="591" width="1" height="17"/>
<rect x="714" y="591" width="1" height="19"/>
<rect x="722" y="591" width="1" height="12"/>
<rect x="730" y="591" width="1" height="7"/>
<rect x="738" y="591" width="1" height="2"/>
<rect x="746" y="591" width="1" height="1"/>
<rect x="754" y="590" width="1" height="1"/>
<rect x="762" y="586" width="1" height="5"/>
<rect x="770" y="588" width="1" height="3"/>
<rect x="778" y="588" width="1" height="3"/>
<rect x="786" y="590" width="1" height="1"/>
<rect x="794" y="591" width="1" height="1"/>
<rect x="802" y="591" width="1" height="3"/>
<rect x="810" y="591" width="1" height="19"/>
<rect x="818" y="591" width="1" height="32"/>
<rect x="826" y="591" width="1" height="48"/>
<rect x="834" y="591" width="1" height="65"/>
<rect x="842" y="591" width="1" height="76"/>
<rect x="850" y="591" width="1" height="87"/>
<rect x="858" y="591" width="1" height="101"/>
<rect x="866" y="591" width="1" height="111"/>
<rect x="874" y="591" width="1" height="124"/>
<rect x="882" y="591" width="1" height="128"/>
<rect x="890" y="591" width="1" height="130"/>
<rect x="898" y="591" width="1" height="126"/>
<rect x="906" y="591" width="1" height="129"/>
<rect x="914" y="591" width="1" height="133"/>
<rect x="922" y="591" width="1" height="143"/>
<rect x="930" y="591" width="1" height="153"/>
<rect x="938" y="591" width="1" height="160"/>
<rect x="946" y="591" width="1" height="164"/>
<rect x="954" y="591" width="1" height="166"/>
<rect x="962" y="591" width="1" height="167"/>
<rect x="970" y="591" width="1" height="168"/>
<rect x="978" y="591" width="1" height="167"/>
<rect x="986" y="591" width="1" height="165"/>
<rect x="994" y="591" width="1" height="165"/>
<rect x="1002" y="591" width="1" height="158"/>
<rect x="1010" y="591" width="1" height="166"/>
<rect x="1018" y="591" width="1" height="171"/>
<rect x="1026" y="591" width="1" height="167"/>
<rect x="1034" y="591" width="1" height="163"/>
<rect x="1042" y="591" width="1" height="157"/>
<rect x="1050" y="591" width="1" height="140"/>
<rect x="1058" y="591" width="1" height="125"/>
<rect x="1066" y="591" width="1" height="111"/>
<rect x="1074" y="591" width="1" height="94"/>
<rect x="1082" y="591" width="1" height="84"/>
<rect x="1090" y="591" width="1" height="76"/>
<rect x="1098" y="591" width="1" height="67"/>
<rect x="1106" y="591" width="1" height="61"/>
<rect x="1114" y="591" width="1" height="60"/>
<rect x="1122" y="591" width="1" height="64"/>
<rect x="1130" y="591" width="1" height="65"/>
<rect x="1138" y="591" width="1" height="60"/>
<rect x="1146" y="591" width="1" height="55"/>
<rect x="1154" y="591" width="1" height="51"/>
<rect x="1162" y="591" width="1" height="50"/>
<rect x="1170" y="591" width="1" height="51"/>
<rect x="1178" y="591" width="1" height="51"/>
<rect x="1186" y="591" width="1" height="51"/>
<rect x="1194" y="591" width="1" height="47"/>
<rect x="1202" y="591" width="1" height="45"/>
<rect x="1210" y="591" width="1" height="44"/>
<rect x="1218" y="591" width="1" height="28"/>
<rect x="1226" y="591" width="1" height="15"/>
<rect x="1234" y="591" width="1" height="8"/>
<rect x="1242" y="591" width="1" height="8"/>
<rect x="1250" y="591" width="1" height="27"/>
<rect x="1258" y="591" width="1" height="50"/>
<rect x="1266" y="591" width="1" height="63"/>
<rect x="1274" y="591" width="1" height="72"/>
<rect x="1282" y="591" width="1" height="77"/>
<rect x="1290" y="591" width="1" height="89"/>
<rect x="1298" y="591" width="1" height="93"/>
<rect x="1306" y="591" width="1" height="94"/>
<rect x="1314" y="591" width="1" height="95"/>
<rect x="1322" y="591" width="1" height="97"/>
<rect x="1330" y="591" width="1" height="100"/>
<rect x="1338" y="591" width="1" height="104"/>
<rect x="1346" y="591" width="1" height="96"/>
<rect x="1354" y="591" width="1" height="89"/>
<rect x="1362" y="591" width="1" height="83"/>
<rect x="1370" y="591" width="1" height="78"/>
<rect x="1378" y="591" width="1" height="72"/>
<rect x="1386" y="591" width="1" height="71"/>
<rect x="1394" y="591" width="1" height="67"/>
<rect x="1402" y="591" width="1" height="65"/>
<rect x="1410" y="591" width="1" height="63"/>
<rect x="1418" y="591" width="1" height="61"/>
<rect x="1426" y="591" width="1" height="58"/>
<rect x="1434" y="591" width="1" height="56"/>
<rect x="1442" y="591" width="1" height="47"/>
<rect x="1450" y="591" width="1" height="42"/>
<rect x="1458" y="591" width="1" height="47"/>
<rect x="1466" y="591" width="1" height="51"/>
</g>
<polyline points="0.0,626.4 20.0,621.0 44.0,614.4 70.0,604.4 90.0,601.6 106.0,599.0 148.0,600.0 170.0,603.6 218.0,602.4 246.0,605.6 268.0,610.4 290.0,613.6 340.0,613.0 356.0,614.0 370.0,617.4 390.0,621.0 420.0,623.4 444.0,622.0 484.0,620.4 500.0,615.6 516.0,607.0 530.0,597.0 548.0,584.4 562.0,576.0 578.0,573.6 596.0,576.4 616.0,582.0 640.0,591.0 660.0,599.0 680.0,606.0 690.8,609.6 708.8,611.5 723.3,611.5 740.0,607.2 759.3,600.5 776.0,594.5 793.0,590.9 809.8,591.3 824.0,599.3 838.7,613.7 858.0,639.0 872.3,661.8 889.0,687.0 908.4,706.3 932.4,724.3 944.4,731.5 968.5,744.2 987.7,753.0 1002.0,756.3 1020.0,757.2 1041.0,756.3 1053.0,752.0 1070.0,738.7 1082.0,726.7 1094.0,709.9 1106.0,693.0 1118.0,678.6 1135.0,663.0 1154.0,652.9 1178.0,647.4 1195.0,645.4 1214.0,640.0 1231.0,631.7 1248.0,622.6 1265.0,622.6 1281.6,629.3 1298.5,645.0 1317.7,667.8 1341.7,684.6 1350.0,686.5 1364.0,686.0 1386.0,680.0 1408.0,668.9 1430.5,657.8 1452.8,650.0 1466.7,646.7" fill="none" stroke="#FF0000" stroke-width="1" stroke-dasharray="3,3" shape-rendering="crispEdges"/>
</g>
<g font-size="9.3" fill="#000" stroke="#000" stroke-width="0.18" shape-rendering="auto">
<text x="-1" y="566">MACD(12,26,9) -0.003651 -0.003510</text>
<text x="1657" y="563.6">0.00226</text>
<text x="1657" y="594.6">0.00</text>
<text x="1657" y="769.6">-0.011252</text>
<rect x="1654" y="555" width="2" height="1"/><rect x="1654" y="591" width="2" height="1"/><rect x="1654" y="771" width="2" height="1"/>
</g>
<g clip-path="url(#cr)">
<line x1="0" y1="804.5" x2="1653" y2="804.5" stroke="#c0c0c0" stroke-width="1" stroke-dasharray="3,3"/>
<line x1="0" y1="846.5" x2="1653" y2="846.5" stroke="#c0c0c0" stroke-width="1" stroke-dasharray="3,3"/>
<line x1="0" y1="895.5" x2="1653" y2="895.5" stroke="#c0c0c0" stroke-width="1" stroke-dasharray="3,3"/>
<polyline points="2.0,840.5 10.0,842.5 18.0,848.0 26.0,847.0 34.0,854.5 42.0,847.0 50.0,850.5 58.0,842.0 66.0,846.0 74.0,843.0 82.0,848.0 90.0,851.0 98.0,848.0 106.0,855.5 114.0,857.5 122.0,857.5 130.0,852.5 138.0,847.5 146.0,858.0 154.0,850.0 162.0,850.0 170.0,851.0 178.0,851.0 186.0,845.5 194.0,842.0 202.0,856.0 210.0,862.0 218.0,863.0 226.0,864.5 234.0,866.5 242.0,856.0 250.0,858.0 258.0,860.5 266.0,862.5 274.0,857.5 282.0,851.0 290.0,854.5 298.0,864.0 306.0,855.0 314.0,857.0 322.0,857.5 330.0,867.0 338.0,870.5 346.0,870.5 354.0,865.0 362.0,869.0 370.0,874.0 378.0,865.0 386.0,863.0 394.0,862.0 402.0,866.0 410.0,866.5 418.0,865.0 426.0,869.5 434.0,863.0 442.0,857.5 450.0,869.5 458.0,869.5 466.0,862.5 474.0,867.5 482.0,867.5 490.0,833.0 498.0,822.5 506.0,819.5 514.0,816.0 522.0,818.0 530.0,824.5 538.0,849.0 546.0,842.0 554.0,846.0 562.0,846.0 570.0,843.0 578.0,845.5 586.0,848.5 594.0,846.0 602.0,848.0 610.0,858.5 618.0,863.0 626.0,852.5 634.0,857.5 642.0,860.5 650.0,860.5 658.0,861.5 666.0,857.5 674.0,856.0 682.0,858.0 690.0,861.5 698.0,855.5 706.0,843.0 714.0,857.5 722.0,840.5 730.0,840.5 738.0,837.5 746.0,836.0 754.0,844.5 762.0,835.0 770.0,849.0 778.0,845.0 786.0,849.0 794.0,851.0 802.0,852.5 810.0,875.5 818.0,875.5 826.0,882.5 834.0,885.5 842.0,883.0 850.0,886.0 858.0,891.0 866.0,890.5 874.0,894.5 882.0,881.5 890.0,882.5 898.0,874.0 906.0,879.5 914.0,883.0 922.0,888.0 930.0,889.0 938.0,890.0 946.0,890.0 954.0,891.0 962.0,891.0 970.0,893.0 978.0,892.0 986.0,893.0 994.0,895.0 1002.0,878.0 1010.0,890.0 1018.0,886.0 1026.0,879.0 1034.0,879.0 1042.0,874.5 1050.0,856.0 1058.0,857.0 1066.0,854.5 1074.0,849.0 1082.0,853.0 1090.0,855.0 1098.0,851.0 1106.0,854.0 1114.0,861.0 1122.0,865.0 1130.0,863.0 1138.0,855.5 1146.0,854.0 1154.0,855.5 1162.0,859.5 1170.0,862.0 1178.0,861.0 1186.0,864.0 1194.0,855.0 1202.0,857.0 1210.0,861.0 1218.0,832.5 1226.0,832.5 1234.0,840.5 1242.0,847.5 1250.0,868.0 1258.0,874.0 1266.0,867.0 1274.0,868.0 1282.0,866.0 1290.0,872.0 1298.0,867.5 1306.0,866.0 1314.0,867.0 1322.0,868.0 1330.0,872.0 1338.0,873.0 1346.0,855.5 1354.0,860.0 1362.0,860.5 1370.0,859.0 1378.0,852.5 1386.0,860.0 1394.0,856.0 1402.0,860.0 1410.0,858.0 1418.0,860.5 1426.0,855.0 1434.0,852.0 1442.0,849.5 1450.0,857.0 1458.0,865.0 1466.0,870.0" fill="none" stroke="#1E90FF" stroke-width="1.1" shape-rendering="auto"/>
</g>
<g font-size="9.3" fill="#000" stroke="#000" stroke-width="0.18" shape-rendering="auto">
<text x="-1" y="787">RSI(14) 35.5010</text>
<text x="1657.3" y="785.1">100</text>
<text x="1656.2" y="807.6">80</text>
<rect x="1654" y="804" width="1" height="1"/>
<text x="1656.2" y="849.6">50</text>
<rect x="1654" y="846" width="1" height="1"/>
<text x="1656.2" y="898.6">15</text>
<rect x="1654" y="895" width="1" height="1"/>
<text x="1657.3" y="914.1">0</text>
<rect x="1654" y="776" width="1" height="1"/><rect x="1654" y="917" width="1" height="1"/>
</g>
<g font-size="9.3" fill="#000" stroke="#000" stroke-width="0.18" shape-rendering="auto">
<rect x="-6" y="918" width="1" height="3" shape-rendering="crispEdges"/>
<text x="-7.2" y="930" font-size="9.5">30 Mar 2022</text>
<rect x="58" y="918" width="1" height="3" shape-rendering="crispEdges"/>
<text x="56.8" y="930" font-size="9.5">31 Mar 12:00</text>
<rect x="122" y="918" width="1" height="3" shape-rendering="crispEdges"/>
<text x="120.8" y="930" font-size="9.5">3 Apr 23:00</text>
<rect x="186" y="918" width="1" height="3" shape-rendering="crispEdges"/>
<text x="184.8" y="930" font-size="9.5">5 Apr 04:00</text>
<rect x="250" y="918" width="1" height="3" shape-rendering="crispEdges"/>
<text x="248.8" y="930" font-size="9.5">6 Apr 12:00</text>
<rect x="314" y="918" width="1" height="3" shape-rendering="crispEdges"/>
<text x="312.8" y="930" font-size="9.5">7 Apr 20:00</text>
<rect x="378" y="918" width="1" height="3" shape-rendering="crispEdges"/>
<text x="376.8" y="930" font-size="9.5">11 Apr 04:00</text>
<rect x="442" y="918" width="1" height="3" shape-rendering="crispEdges"/>
<text x="440.8" y="930" font-size="9.5">12 Apr 12:00</text>
<rect x="506" y="918" width="1" height="3" shape-rendering="crispEdges"/>
<text x="504.8" y="930" font-size="9.5">13 Apr 20:00</text>
<rect x="570" y="918" width="1" height="3" shape-rendering="crispEdges"/>
<text x="568.8" y="930" font-size="9.5">15 Apr 04:00</text>
<rect x="634" y="918" width="1" height="3" shape-rendering="crispEdges"/>
<text x="632.8" y="930" font-size="9.5">18 Apr 12:00</text>
<rect x="698" y="918" width="1" height="3" shape-rendering="crispEdges"/>
<text x="696.8" y="930" font-size="9.5">19 Apr 20:00</text>
<rect x="762" y="918" width="1" height="3" shape-rendering="crispEdges"/>
<text x="760.8" y="930" font-size="9.5">21 Apr 04:00</text>
<rect x="826" y="918" width="1" height="3" shape-rendering="crispEdges"/>
<text x="824.8" y="930" font-size="9.5">22 Apr 12:00</text>
<rect x="890" y="918" width="1" height="3" shape-rendering="crispEdges"/>
<text x="888.8" y="930" font-size="9.5">25 Apr 20:00</text>
<rect x="954" y="918" width="1" height="3" shape-rendering="crispEdges"/>
<text x="952.8" y="930" font-size="9.5">27 Apr 04:00</text>
<rect x="1018" y="918" width="1" height="3" shape-rendering="crispEdges"/>
<text x="1016.8" y="930" font-size="9.5">28 Apr 12:00</text>
<rect x="1082" y="918" width="1" height="3" shape-rendering="crispEdges"/>
<text x="1080.8" y="930" font-size="9.5">1 May 23:00</text>
<rect x="1146" y="918" width="1" height="3" shape-rendering="crispEdges"/>
<text x="1144.8" y="930" font-size="9.5">3 May 04:00</text>
<rect x="1210" y="918" width="1" height="3" shape-rendering="crispEdges"/>
<text x="1208.8" y="930" font-size="9.5">4 May 12:00</text>
<rect x="1274" y="918" width="1" height="3" shape-rendering="crispEdges"/>
<text x="1272.8" y="930" font-size="9.5">5 May 20:00</text>
<rect x="1338" y="918" width="1" height="3" shape-rendering="crispEdges"/>
<text x="1336.8" y="930" font-size="9.5">9 May 04:00</text>
<rect x="1402" y="918" width="1" height="3" shape-rendering="crispEdges"/>
<text x="1400.8" y="930" font-size="9.5">10 May 12:00</text>
<rect x="1466" y="918" width="1" height="3" shape-rendering="crispEdges"/>
<text x="1464.8" y="930" font-size="9.5">11 May 20:00</text>
</g>
<line x1="1224.5" y1="332.0" x2="1297.6" y2="481.9" stroke="#FF0000" stroke-width="3.2" stroke-linecap="round" shape-rendering="auto"/>
<polygon points="1301.5,490.0 1292.6,482.1 1300.7,478.1" fill="#FF0000" shape-rendering="auto"/>
<line x1="1301.0" y1="489.0" x2="1437.4" y2="449.5" stroke="#FF0000" stroke-width="3.2" stroke-linecap="round" shape-rendering="auto"/>
<polygon points="1446.0,447.0 1436.7,454.4 1434.2,445.7" fill="#FF0000" shape-rendering="auto"/>
<line x1="1446.0" y1="447.0" x2="1480.2" y2="501.9" stroke="#FF0000" stroke-width="3.2" stroke-linecap="round" shape-rendering="auto"/>
<polygon points="1485.0,509.5 1475.4,502.6 1483.0,497.8" fill="#FF0000" shape-rendering="auto"/>
<line x1="1348.0" y1="686.4" x2="1442.2" y2="643.0" stroke="#FF0000" stroke-width="3.2" stroke-linecap="round" shape-rendering="auto"/>
<polygon points="1449.5,639.7 1442.3,648.0 1438.5,639.8" fill="#FF0000" shape-rendering="auto"/>
<line x1="1450.5" y1="632.8" x2="1467.7" y2="643.5" stroke="#FF0000" stroke-width="2.6" stroke-linecap="round" shape-rendering="auto"/>
<polygon points="1473.6,647.2 1463.8,645.8 1468.1,639.0" fill="#FF0000" shape-rendering="auto"/>
<line x1="1358.5" y1="857.5" x2="1438.0" y2="854.1" stroke="#FF0000" stroke-width="3.2" stroke-linecap="round" shape-rendering="auto"/>
<polygon points="1446.0,853.8 1436.2,858.7 1435.8,849.7" fill="#FF0000" shape-rendering="auto"/>
<line x1="1445.0" y1="854.0" x2="1462.6" y2="866.2" stroke="#FF0000" stroke-width="3.2" stroke-linecap="round" shape-rendering="auto"/>
<polygon points="1470.0,871.3 1458.1,869.2 1463.8,860.9" fill="#FF0000" shape-rendering="auto"/>
<g font-size="9.3" fill="#000" stroke="#000" stroke-width="0.18" shape-rendering="auto">
<polygon points="0,23 0,27 4,27" fill="#000"/>
<text x="9" y="28" font-size="9.3" xml:space="preserve">GBPUSD-,H4  1.22417 1.22464 1.22370 1.22462</text>
</g>
<polygon points="1464.8,17 1474.2,17 1469.5,22" fill="#c0c0c0" shape-rendering="auto"/>
</svg>
<div id="tb">
<svg width="1700" height="14" viewBox="0 0 1700 14" style="position:absolute;left:0;top:0">
<defs><radialGradient id="pg" cx="0.5" cy="0.45" r="0.6"><stop offset="0" stop-color="#40f050"/><stop offset="0.6" stop-color="#10d020"/><stop offset="1" stop-color="#08a810"/></radialGradient><linearGradient id="cg" x1="0" y1="0" x2="0" y2="1"><stop offset="0" stop-color="#ffffff"/><stop offset="1" stop-color="#b8c8e4"/></linearGradient></defs>
<rect x="289.5" y="0" width="24" height="10" fill="#f9f9f9"/>
<rect x="441" y="0" width="24" height="10" fill="#f9f9f9"/>
<rect x="469" y="0" width="24" height="10" fill="#f9f9f9"/>
<rect x="629" y="0" width="24" height="10" fill="#f9f9f9"/>
<rect x="1075" y="0" width="24" height="10" fill="#f9f9f9"/>
<rect x="14" y="0" width="1" height="10" fill="#a0a0a0"/>
<rect x="288" y="0" width="1" height="10" fill="#a0a0a0"/>
<rect x="345" y="0" width="1" height="10" fill="#a0a0a0"/>
<rect x="435" y="0" width="1" height="10" fill="#a0a0a0"/>
<rect x="440" y="0" width="1" height="10" fill="#a0a0a0"/>
<rect x="468" y="0" width="1" height="10" fill="#a0a0a0"/>
<rect x="497" y="0" width="1" height="10" fill="#a0a0a0"/>
<rect x="685" y="0" width="1" height="10" fill="#a0a0a0"/>
<rect x="250" y="0" width="1" height="12" fill="#8c8c8c"/><rect x="251" y="0" width="1" height="12" fill="#fbfbfb"/>
<rect x="618" y="0" width="1" height="12" fill="#8c8c8c"/><rect x="619" y="0" width="1" height="12" fill="#fbfbfb"/>
<rect x="924" y="0" width="1" height="12" fill="#8c8c8c"/><rect x="925" y="0" width="1" height="12" fill="#fbfbfb"/>
<rect x="1185" y="0" width="1" height="12" fill="#8c8c8c"/><rect x="1186" y="0" width="1" height="12" fill="#fbfbfb"/>
<rect x="628" y="0" width="1" height="10" fill="#909090"/>
<rect x="1074" y="0" width="1" height="10" fill="#909090"/>
<rect x="254" y="0" width="4" height="1" fill="#b4b4b4"/>
<rect x="254" y="2" width="4" height="1" fill="#b4b4b4"/>
<rect x="254" y="4" width="4" height="1" fill="#b4b4b4"/>
<rect x="254" y="6" width="4" height="1" fill="#b4b4b4"/>
<rect x="254" y="8" width="4" height="1" fill="#b4b4b4"/>
<rect x="622" y="0" width="4" height="1" fill="#b4b4b4"/>
<rect x="622" y="2" width="4" height="1" fill="#b4b4b4"/>
<rect x="622" y="4" width="4" height="1" fill="#b4b4b4"/>
<rect x="622" y="6" width="4" height="1" fill="#b4b4b4"/>
<rect x="622" y="8" width="4" height="1" fill="#b4b4b4"/>
<rect x="927" y="0" width="4" height="1" fill="#b4b4b4"/>
<rect x="927" y="2" width="4" height="1" fill="#b4b4b4"/>
<rect x="927" y="4" width="4" height="1" fill="#b4b4b4"/>
<rect x="927" y="6" width="4" height="1" fill="#b4b4b4"/>
<rect x="927" y="8" width="4" height="1" fill="#b4b4b4"/>
<path d="M2.6 -3 A6 6 0 0 1 -1 5.2 L-1 -3z" stroke="#6a9ad8" stroke-width="1.3" fill="#e4f2ff"/>
<line x1="2.7" y1="4.9" x2="5.8" y2="8.4" stroke="#c8a020" stroke-width="3.4"/>
<line x1="3.2" y1="4.6" x2="6.3" y2="8.1" stroke="#e4c860" stroke-width="1"/>
<rect x="24.5" y="-3" width="7" height="8.5" rx="1" fill="#fff" stroke="#909090"/>
<rect x="26" y="0" width="4" height="1" fill="#999"/>
<path d="M31.8 -2 h4.4 v4 h4 v3.8 h-4 v4 h-4.4 v-4 h-4 v-3.8 h4z" fill="url(#pg)" stroke="#0a8a0a" stroke-width="0.9"/>
<rect x="507.5" y="-3" width="7" height="8.5" rx="1" fill="#fff" stroke="#909090"/>
<rect x="509" y="0" width="4" height="1" fill="#999"/>
<path d="M514.8 -2 h4.4 v4 h4 v3.8 h-4 v4 h-4.4 v-4 h-4 v-3.8 h4z" fill="url(#pg)" stroke="#0a8a0a" stroke-width="0.9"/>
<path d="M91 0 L99 -4 L107 0 L107 2.5 L99.5 7.5 L91 2.5z" fill="#d9a520" stroke="#a87810" stroke-width="0.8"/>
<path d="M92 0.5 L99.5 5 L106 0.5" fill="none" stroke="#f5dc80" stroke-width="1"/>
<path d="M123 7.2 a3.8 3.8 0 0 1 -1.5 -7.3 a4.5 4.5 0 0 1 5 -3 a5 5 0 0 1 6.5 1.5 a4.2 4.2 0 0 1 1.5 8.8z" fill="url(#cg)" stroke="#5878b8" stroke-width="1.1"/>
<path d="M155.5 -6 A8.5 8.5 0 0 1 155.5 8z" fill="#35a83c"/>
<path d="M158 -4 A6 6 0 0 1 157 6" fill="none" stroke="#9be0a0" stroke-width="1.2"/>
<path d="M148.5 -5 A9 9 0 0 0 154.5 7.6" fill="none" stroke="#9bbcec" stroke-width="1.4"/>
<path d="M151 -4 A6.5 6.5 0 0 0 154.5 5" fill="none" stroke="#5a8ee0" stroke-width="1.4"/>
<path d="M153.3 -3 A4 4 0 0 0 154.6 2.4" fill="none" stroke="#2a62c8" stroke-width="1.4"/>
<path d="M174 -1 L185 -1 L185 5 L182.5 7.5 L179.5 7.5z" fill="#f0cc3c" stroke="#c09820" stroke-width="0.7"/>
<circle cx="186.5" cy="3.5" r="4.2" fill="#dc2010"/><rect x="185.2" y="2.2" width="2.6" height="2.6" fill="#fff"/>
<rect x="268" y="0" width="1" height="8" fill="#303030"/>
<rect x="266" y="5" width="12" height="1" fill="#303030"/>
<path d="M277 3 L280 5.5 L277 8z" fill="#303030"/>
<path d="M274.5 0 v3 h-2.5" stroke="#18a018" stroke-width="1.2" fill="none"/>
<rect x="296" y="0" width="1" height="8" fill="#303030"/>
<rect x="294" y="5" width="12" height="1" fill="#303030"/>
<path d="M305 3 L308 5.5 L305 8z" fill="#303030"/>
<rect x="301" y="0" width="4" height="1.8" fill="#18b018"/><rect x="302.5" y="0" width="1" height="3.8" fill="#18a018"/>
<rect x="324" y="0" width="1" height="8" fill="#303030"/>
<rect x="322" y="5" width="12" height="1" fill="#303030"/>
<path d="M333 3 L336 5.5 L333 8z" fill="#303030"/>
<path d="M323.5 3 L326 -1 M332 -1 L334 1.5" stroke="#30a830" stroke-width="1.3" fill="none"/>
<rect x="448" y="0" width="1" height="8" fill="#303030"/>
<rect x="446" y="5" width="12" height="1" fill="#303030"/>
<path d="M457 3 L460 5.5 L457 8z" fill="#303030"/>
<path d="M453 -3 L457 0 L453 3z" fill="#18a018"/>
<rect x="476" y="0" width="1" height="8" fill="#303030"/>
<rect x="474" y="5" width="12" height="1" fill="#303030"/>
<path d="M485 3 L488 5.5 L485 8z" fill="#303030"/>
<rect x="482" y="-2" width="1.2" height="6" fill="#1060a0"/><path d="M484 -2 L487 -2 L486 2z" fill="#a02010"/>
<circle cx="360" cy="-2" r="5" fill="#d8ecfc" stroke="#4a88d0" stroke-width="1.4"/>
<line x1="364.3" y1="2.2" x2="369.3" y2="7" stroke="#c8a020" stroke-width="3"/>
<line x1="365" y1="2" x2="370" y2="6.8" stroke="#ecd470" stroke-width="0.9"/>
<circle cx="387.5" cy="-2" r="5" fill="#d8ecfc" stroke="#4a88d0" stroke-width="1.4"/>
<line x1="391.8" y1="2.2" x2="396.8" y2="7" stroke="#c8a020" stroke-width="3"/>
<line x1="392.5" y1="2" x2="397.5" y2="6.8" stroke="#ecd470" stroke-width="0.9"/>
<rect x="410" y="-3" width="8" height="10.7" rx="1" fill="#2e62d8"/><rect x="418.5" y="-3" width="8" height="10.7" rx="1" fill="#3a9c20"/>
<rect x="411.5" y="2" width="5" height="3.5" fill="#e8f0ff"/><rect x="420" y="2" width="5" height="3.5" fill="#e4f6dc"/>
<rect x="412.5" y="3.3" width="3" height="1" fill="#2e62d8"/><rect x="421" y="3.3" width="3" height="1" fill="#7cc060"/>
<path d="M529.0 -0.5 L534.0 -0.5 L531.5 2z" fill="#000"/>
<path d="M568.0 -0.5 L573.0 -0.5 L570.5 2z" fill="#000"/>
<path d="M607.0 -0.5 L612.0 -0.5 L609.5 2z" fill="#000"/>
<path d="M913.0 -0.5 L918.0 -0.5 L915.5 2z" fill="#000"/>
<circle cx="553" cy="-1" r="7.4" fill="#e8eef8" stroke="#1858c0" stroke-width="2.2"/>
<circle cx="553" cy="-1" r="5.2" fill="none" stroke="#c0c8d8" stroke-width="0.8" stroke-dasharray="1,2"/>
<rect x="584.5" y="-4" width="15" height="10.5" fill="#fff" stroke="#3a70c8" stroke-width="1.2"/>
<rect x="585" y="0" width="14" height="1" fill="#3a70c8"/>
<polyline points="587,4.5 589.5,3.5 591.5,4.5 594.5,2 596.5,2.5 598,4" fill="none" stroke="#189018" stroke-width="1.1"/>
<path d="M635.8 -1 L645 -1 L641.3 1.8 L643.7 6.5 L641.7 7.4 L639.4 2.9 L637.6 3.6z" fill="#404040"/>
<rect x="668" y="0" width="1" height="8" fill="#303030"/><rect x="661" y="0" width="15" height="1" fill="#303030"/>
<rect x="702" y="0" width="1" height="7" fill="#303030"/>
<rect x="725" y="0" width="13" height="1" fill="#303030"/>
<line x1="753" y1="7" x2="761" y2="-1" stroke="#404040" stroke-width="1.1"/>
<path d="M779 2 L785 -2 M781 5.5 L788 -1 M783 7 L790 0 M782 -1 L783.5 6" stroke="#505050" stroke-width="1" fill="none"/>
<line x1="808" y1="0.5" x2="820" y2="0.5" stroke="#404040" stroke-dasharray="1,1"/><line x1="808" y1="4.5" x2="817" y2="4.5" stroke="#404040" stroke-dasharray="1,1"/>
<rect x="865.5" y="-4" width="11" height="10.5" fill="none" stroke="#404040" stroke-dasharray="1,1"/><rect x="870" y="-3" width="2" height="7" fill="#404040"/>
<path d="M894 1 L896 3 L899 -1" stroke="#404040" stroke-width="1.4" fill="none"/><path d="M899 4.3 L902.5 1.8 L906 4.3 L902.5 7z" fill="#404040"/>
<circle cx="1655" cy="-3" r="4" fill="#e8f0ff" stroke="#2860d0" stroke-width="1.5"/><line x1="1652.3" y1="0.5" x2="1648" y2="4.5" stroke="#2860d0" stroke-width="2.4" stroke-linecap="round"/>
<path d="M1672.5 -4 v6 a3 3 0 0 0 3 3 v3.5 l3 -3.5 h6 a3 3 0 0 0 3 -3 v-6z" fill="#e4e6f0" stroke="#b8bac8" stroke-width="0.8"/>
<circle cx="1686.5" cy="-1" r="7.2" fill="#e03018"/>
</svg>
<span style="left:43px;top:-8px;font-size:12px;line-height:14px;color:#000">新订单</span>
<span style="left:195.5px;top:-8px;font-size:11.6px;line-height:14px;color:#000">自动交易</span>
<span style="left:939.5px;top:-5px;font-size:10.3px;line-height:12px;color:#3c3c3c">M1</span>
<span style="left:967.5px;top:-5px;font-size:10.3px;line-height:12px;color:#3c3c3c">M5</span>
<span style="left:993px;top:-5px;font-size:10.3px;line-height:12px;color:#3c3c3c">M15</span>
<span style="left:1021px;top:-5px;font-size:10.3px;line-height:12px;color:#3c3c3c">M30</span>
<span style="left:1052px;top:-5px;font-size:10.3px;line-height:12px;color:#3c3c3c">H1</span>
<span style="left:1080px;top:-5px;font-size:10.3px;line-height:12px;color:#3c3c3c">H4</span>
<span style="left:1108px;top:-5px;font-size:10.3px;line-height:12px;color:#3c3c3c">D1</span>
<span style="left:1137px;top:-5px;font-size:10.3px;line-height:12px;color:#3c3c3c">W1</span>
<span style="left:1162px;top:-5px;font-size:10.3px;line-height:12px;color:#3c3c3c">MN</span>
<span style="left:790px;top:2.6px;font-size:6.5px;line-height:7px;font-weight:bold;color:#303030">E</span>
<span style="left:818px;top:2.6px;font-size:6.5px;line-height:7px;font-weight:bold;color:#303030">F</span>
<span style="left:838.5px;top:-5.2px;font-size:11.5px;line-height:12px;color:#404040">A</span>
<span style="left:1683.6px;top:-7.4px;font-size:10px;line-height:12px;font-weight:bold;color:#fff;font-family:'Liberation Serif',serif">1</span>
</div>
<div id="tp">
<div class="r1" style="left:0;top:0;width:49px;height:24px;border-left:0"></div>
<div style="left:1px;top:22px;width:44px;height:1px;background:#b01010"></div>
<div style="left:1px;top:23px;width:44px;height:1px;background:#f06060"></div>
<div class="r1" style="left:164px;top:0;width:52px;height:24px"></div>
<div style="left:168px;top:22px;width:44px;height:1px;background:#b01010"></div>
<div style="left:168px;top:23px;width:44px;height:1px;background:#f06060"></div>
<div class="r2" style="left:0;top:24px;width:106px;height:33px;border-left:0"></div>
<div class="r2" style="left:108px;top:24px;width:108px;height:33px"></div>
<div style="left:49px;top:0;width:115px;height:24px;background:#fff"></div>
<div style="left:51px;top:0;width:111px;height:22px;background:#fff;border:1px solid #a4acbc"></div>
<div style="left:52px;top:1px;width:20px;height:20px;background:linear-gradient(#f2f2f2 0,#ebebeb 45%,#d8d8d8 50%,#cfcfcf 100%);border-right:1px solid #a4acbc"></div>
<div style="left:140px;top:1px;width:21px;height:20px;background:linear-gradient(#f2f2f2 0,#ebebeb 45%,#d8d8d8 50%,#cfcfcf 100%);border-left:1px solid #a4acbc"></div>
<div style="left:58.5px;top:9px;width:0;height:0;border-left:3.5px solid transparent;border-right:3.5px solid transparent;border-top:4px solid #4a62c8"></div>
<div style="left:146.5px;top:8px;width:0;height:0;border-left:3.5px solid transparent;border-right:3.5px solid transparent;border-bottom:4px solid #4a62c8"></div>
<div style="left:72.5px;top:12px;width:3px;height:3px;border:1px solid #333;transform:rotate(45deg)"></div>
<span style="left:9px;top:5.5px;font-size:11.6px;letter-spacing:-0.35px">SELL</span>
<span style="left:177.5px;top:5.5px;font-size:11.6px;letter-spacing:-0.35px">BUY</span>
<span style="right:79.5px;top:4.6px;font-size:12.3px;color:#000;letter-spacing:-0.2px">1.00</span>
<span style="left:17px;top:41.3px;font-size:12.4px;font-weight:bold;letter-spacing:-0.1px">1.22</span>
<span style="left:44px;top:22.5px;font-size:32.5px">46</span>
<span style="left:83.8px;top:24.6px;font-size:12.6px;font-weight:bold">2</span>
<span style="left:127.5px;top:41.3px;font-size:12.4px;font-weight:bold;letter-spacing:-0.1px">1.22</span>
<span style="left:156px;top:22.5px;font-size:32.5px">63</span>
<span style="left:194.8px;top:24.6px;font-size:12.6px;font-weight:bold">6</span>
</div>
</body></html>
